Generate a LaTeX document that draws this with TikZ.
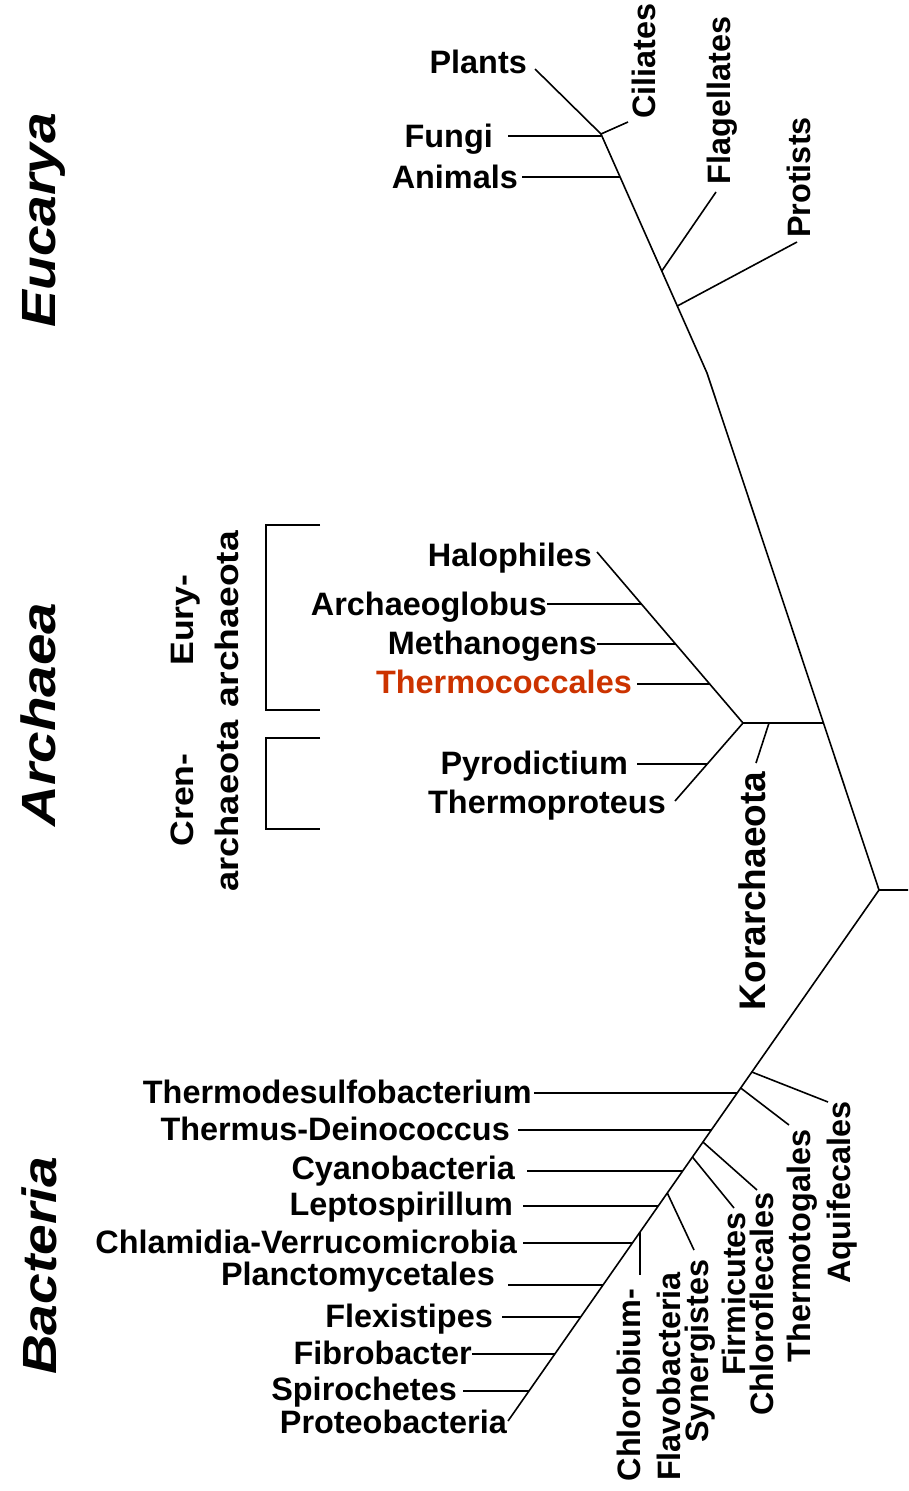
\documentclass[tikz,border=0pt]{standalone}
\usepackage{fontspec}
\setmainfont{Liberation Sans}
\usepackage{graphicx}
\definecolor{thermored}{RGB}{204,51,0}
\tikzset{
  hlbl/.style={font=\fontsize{32.4}{38}\selectfont\bfseries, inner sep=0pt, anchor=base east},
  vlbl/.style={font=\fontsize{32.4}{38}\selectfont\bfseries, inner sep=0pt, anchor=base, rotate=90},
  domlbl/.style={font=\fontsize{48}{54}\selectfont\bfseries\itshape, inner sep=0pt, anchor=base, rotate=90},
  branch/.style={line width=1.6pt},
  bracketline/.style={line width=1.8pt},
}
\begin{document}
\begin{tikzpicture}[x=1pt,y=-1pt]
\useasboundingbox (0,0) rectangle (908,1491);

% ---------- domain labels ----------
\node[domlbl] (euc) at (55,220) {\scalebox{1.15}[1]{Eucarya}};
\node[domlbl] (arc) at (55,714.5) {\scalebox{1.18}[1]{Archaea}};
\node[domlbl] (bac) at (56,1266) {\scalebox{1.15}[1]{Bacteria}};

% ---------- main trunk ----------
\coordinate (e1) at (601,134);
\coordinate (eA) at (620.1,177);
\coordinate (eF) at (661.8,271);
\coordinate (eP) at (677.3,306);
\coordinate (eBend) at (707,373);
\coordinate (aJ) at (823.4,723);
\coordinate (root) at (879,890);
\coordinate (rootEnd) at (908,890);
\draw[branch] (e1) -- (eBend) -- (root) -- (rootEnd);

% ---------- Eucarya ----------
\node[hlbl] (plants) at (527,73) {Plants};
\node[hlbl] (fungi) at (493,147) {Fungi};
\node[hlbl] (animals) at (518,188) {Animals};
\node[vlbl] (ciliates) at (655,61) {Ciliates};
\node[vlbl] (flagellates) at (730,100.5) {Flagellates};
\node[vlbl] (protists) at (810,177.5) {Protists};
\coordinate (plE) at (535,69);
\coordinate (fuE) at (508,136);
\coordinate (anE) at (522,177);
\coordinate (ciE) at (628,122);
\coordinate (flE) at (716,192);
\coordinate (prE) at (797,242);
\draw[branch] (plE) -- (e1) -- (ciE);
\draw[branch] (fuE) -- (e1 |- fuE);
\draw[branch] (anE) -- (eA);
\draw[branch] (eF) -- (flE);
\draw[branch] (eP) -- (prE);

% ---------- Archaea ----------
\coordinate (ak) at (743,723);
\coordinate (kj) at (769,723);
\coordinate (kE) at (756,763);
\coordinate (haE) at (597,552);
\coordinate (tpE) at (675,801);
\coordinate (aArch) at (641.4,604);
\coordinate (aMeth) at (675.6,644);
\coordinate (aTherm) at (709.7,684);
\coordinate (aPyro) at (707,764);
\coordinate (arE) at (547,604);
\coordinate (meE) at (597,644);
\coordinate (thE) at (637,684);
\coordinate (pyE) at (637,764);
\draw[branch] (aJ) -- (ak);
\draw[branch] (haE) -- (ak) -- (tpE);
\draw[branch] (kj) -- (kE);
\draw[branch] (arE) -- (aArch);
\draw[branch] (meE) -- (aMeth);
\draw[branch] (thE) -- (aTherm);
\draw[branch] (pyE) -- (aPyro);

\node[hlbl] (halo) at (592,566) {Halophiles};
\node[hlbl] (archg) at (547,615) {Archaeoglobus};
\node[hlbl] (meth) at (597,654) {Methanogens};
\node[hlbl, text=thermored] (thermoc) at (632,693) {Thermococcales};
\node[hlbl] (pyro) at (628,774) {Pyrodictium};
\node[hlbl] (thermop) at (666,813) {Thermoproteus};
\node[vlbl, font=\fontsize{37}{42}\selectfont\bfseries] (kor) at (765,891) {Korarchaeota};

% brackets
\coordinate (b1t) at (320,525);
\coordinate (b1b) at (320,710);
\coordinate (b2t) at (320,738);
\coordinate (b2b) at (320,829);
\draw[bracketline] (b1t) -- ++(-54,0) |- (b1b);
\draw[bracketline] (b2t) -- ++(-54,0) |- (b2b);
\node[vlbl] (eury) at (193,620) {\scalebox{1.1}[1]{Eury-}};
\node[vlbl] (euryb) at (238,619) {\scalebox{1.15}[1]{archaeota}};
\node[vlbl] (cren) at (193,800) {\scalebox{1.1}[1]{Cren-}};
\node[vlbl] (crenb) at (238,806) {\scalebox{1.12}[1]{archaeota}};

% ---------- Bacteria ----------
\coordinate (pbE) at (508,1421);
\draw[branch] (root) -- (pbE);
\coordinate (jAq) at (751.8,1072);
\coordinate (jTt) at (740.7,1088);
\coordinate (jTd) at (737.2,1093);
\coordinate (jTh) at (711.3,1130);
\coordinate (jCf) at (702.9,1142);
\coordinate (jFi) at (692.4,1157);
\coordinate (jCy) at (682.7,1171);
\coordinate (jSy) at (667.3,1193);
\coordinate (jLe) at (658.2,1206);
\coordinate (jCb) at (640.0,1232);
\coordinate (jCh) at (632.4,1243);
\coordinate (jPl) at (603.0,1285);
\coordinate (jFl) at (580.7,1317);
\coordinate (jFb) at (554.8,1354);
\coordinate (jSp) at (528.9,1391);

\coordinate (aqE) at (828,1102);
\coordinate (ttE) at (789,1125);
\coordinate (cfE) at (757,1190);
\coordinate (fiE) at (734,1208);
\coordinate (syE) at (694,1250);
\coordinate (cbE) at (640,1275);
\coordinate (tdE) at (534,1093);
\coordinate (thdE) at (518,1130);
\coordinate (cyE) at (527,1171);
\coordinate (leE) at (523,1206);
\coordinate (chE) at (523,1243);
\coordinate (plcE) at (508,1285);
\coordinate (flxE) at (502,1317);
\coordinate (fbE) at (472,1354);
\coordinate (spE) at (463,1391);

\draw[branch] (jAq) -- (aqE);
\draw[branch] (jTt) -- (ttE);
\draw[branch] (jCf) -- (cfE);
\draw[branch] (jFi) -- (fiE);
\draw[branch] (jSy) -- (syE);
\draw[branch] (jCb) -- (cbE);
\draw[branch] (tdE) -- (jTd);
\draw[branch] (thdE) -- (jTh);
\draw[branch] (cyE) -- (jCy);
\draw[branch] (leE) -- (jLe);
\draw[branch] (chE) -- (jCh);
\draw[branch] (plcE) -- (jPl);
\draw[branch] (flxE) -- (jFl);
\draw[branch] (fbE) -- (jFb);
\draw[branch] (spE) -- (jSp);

\node[hlbl] (tdes) at (532,1103) {Thermodesulfobacterium};
\node[hlbl] (tdei) at (510,1140) {Thermus-Deinococcus};
\node[hlbl] (cyan) at (515,1179) {Cyanobacteria};
\node[hlbl] (lept) at (513,1215) {Leptospirillum};
\node[hlbl] (chla) at (517,1253) {Chlamidia-Verrucomicrobia};
\node[hlbl] (plan) at (495,1285) {Planctomycetales};
\node[hlbl] (flex) at (493,1327) {Flexistipes};
\node[hlbl] (fibr) at (472,1364) {Fibrobacter};
\node[hlbl] (spir) at (457,1400) {Spirochetes};
\node[hlbl] (prot) at (507,1433) {Proteobacteria};

\node[vlbl] (aqui) at (850,1192.5) {Aquifecales};
\node[vlbl] (ttog) at (810,1246) {Thermotogales};
\node[vlbl] (chlf) at (773,1304) {Chloroflecales};
\node[vlbl] (firm) at (745,1294) {Firmicutes};
\node[vlbl] (syne) at (708,1351) {Synergistes};
\node[vlbl] (flav) at (680,1376.5) {Flavobacteria};
\node[vlbl] (chlb) at (640,1385) {Chlorobium-};
\end{tikzpicture}
\end{document}
